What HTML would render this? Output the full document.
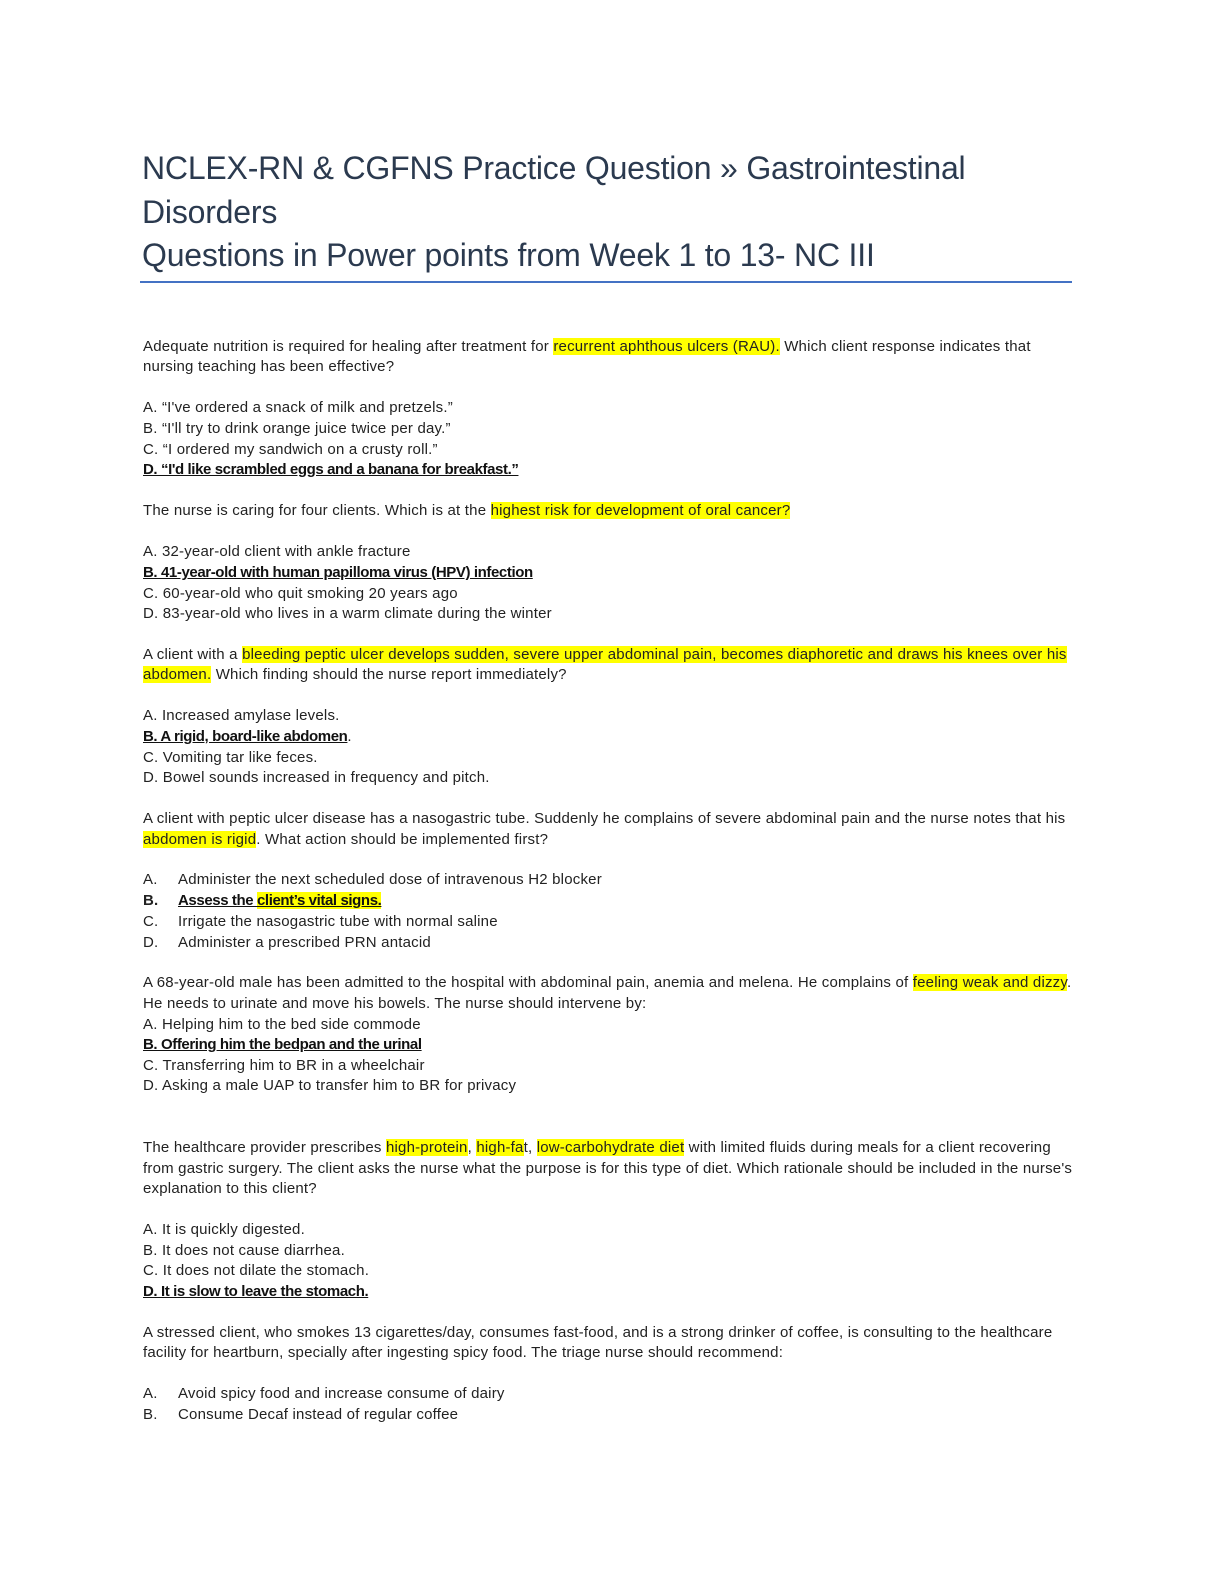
<!DOCTYPE html>
<html><head><meta charset="utf-8">
<style>
html,body{margin:0;padding:0;background:#fff;}
body{width:1224px;height:1584px;position:relative;overflow:hidden;font-family:"Liberation Sans",sans-serif;}
.t{position:absolute;left:142px;font-size:32px;color:#2b3a4f;white-space:nowrap;line-height:40px;letter-spacing:-0.2px}
.l{position:absolute;left:143px;font-size:15px;line-height:20px;height:20px;color:#222;white-space:nowrap;letter-spacing:0.2px}
.h{background:#ffff00}
.a{font-weight:bold;text-decoration:underline;letter-spacing:-0.4px;color:#111}
.n{display:inline-block;width:35px}
</style></head><body>
<div class="t" style="top:148px">NCLEX-RN &amp; CGFNS Practice Question » Gastrointestinal</div>
<div class="t" style="top:192px">Disorders</div>
<div class="t" style="top:235px">Questions in Power points from Week 1 to 13- NC III</div>
<div style="position:absolute;left:140px;top:281px;width:932px;height:2px;background:#4472c4"></div>

<div class="l" style="top:337px">Adequate nutrition is required for healing after treatment for <span class="h">recurrent aphthous ulcers (RAU).</span> Which client response indicates that</div>
<div class="l" style="top:357px">nursing teaching has been effective?</div>
<div class="l" style="top:398px">A. “I've ordered a snack of milk and pretzels.”</div>
<div class="l" style="top:419px">B. “I'll try to drink orange juice twice per day.”</div>
<div class="l" style="top:440px">C. “I ordered my sandwich on a crusty roll.”</div>
<div class="l a" style="top:460px">D. “I'd like scrambled eggs and a banana for breakfast.”</div>

<div class="l" style="top:501px">The nurse is caring for four clients. Which is at the <span class="h">highest risk for development of oral cancer?</span></div>
<div class="l" style="top:542px">A. 32-year-old client with ankle fracture</div>
<div class="l a" style="top:563px">B. 41-year-old with human papilloma virus (HPV) infection</div>
<div class="l" style="top:584px">C. 60-year-old who quit smoking 20 years ago</div>
<div class="l" style="top:604px">D. 83-year-old who lives in a warm climate during the winter</div>

<div class="l" style="top:645px">A client with a <span class="h">bleeding peptic ulcer develops sudden, severe upper abdominal pain, becomes diaphoretic and draws his knees over his</span></div>
<div class="l" style="top:665px"><span class="h">abdomen.</span> Which finding should the nurse report immediately?</div>
<div class="l" style="top:706px">A. Increased amylase levels.</div>
<div class="l" style="top:727px"><span class="a">B. A rigid, board-like abdomen</span>.</div>
<div class="l" style="top:748px">C. Vomiting tar like feces.</div>
<div class="l" style="top:768px">D. Bowel sounds increased in frequency and pitch.</div>

<div class="l" style="top:809px">A client with peptic ulcer disease has a nasogastric tube. Suddenly he complains of severe abdominal pain and the nurse notes that his</div>
<div class="l" style="top:830px"><span class="h">abdomen is rigid</span>. What action should be implemented first?</div>
<div class="l" style="top:870px"><span class="n">A.</span>Administer the next scheduled dose of intravenous H2 blocker</div>
<div class="l" style="top:891px"><span class="n" style="font-weight:bold">B.</span><span class="a">Assess the <span class="h">client’s vital signs.</span></span></div>
<div class="l" style="top:912px"><span class="n">C.</span>Irrigate the nasogastric tube with normal saline</div>
<div class="l" style="top:933px"><span class="n">D.</span>Administer a prescribed PRN antacid</div>

<div class="l" style="top:973px">A 68-year-old male has been admitted to the hospital with abdominal pain, anemia and melena. He complains of <span class="h">feeling weak and dizzy</span>.</div>
<div class="l" style="top:994px">He needs to urinate and move his bowels. The nurse should intervene by:</div>
<div class="l" style="top:1015px">A. Helping him to the bed side commode</div>
<div class="l a" style="top:1035px">B. Offering him the bedpan and the urinal</div>
<div class="l" style="top:1056px">C. Transferring him to BR in a wheelchair</div>
<div class="l" style="top:1076px">D. Asking a male UAP to transfer him to BR for privacy</div>

<div class="l" style="top:1138px">The healthcare provider prescribes <span class="h">high-protein</span>, <span class="h">high-fa</span>t, <span class="h">low-carbohydrate diet</span> with limited fluids during meals for a client recovering</div>
<div class="l" style="top:1159px">from gastric surgery. The client asks the nurse what the purpose is for this type of diet. Which rationale should be included in the nurse's</div>
<div class="l" style="top:1179px">explanation to this client?</div>
<div class="l" style="top:1220px">A. It is quickly digested.</div>
<div class="l" style="top:1241px">B. It does not cause diarrhea.</div>
<div class="l" style="top:1261px">C. It does not dilate the stomach.</div>
<div class="l a" style="top:1282px">D. It is slow to leave the stomach.</div>

<div class="l" style="top:1323px">A stressed client, who smokes 13 cigarettes/day, consumes fast-food, and is a strong drinker of coffee, is consulting to the healthcare</div>
<div class="l" style="top:1343px">facility for heartburn, specially after ingesting spicy food. The triage nurse should recommend:</div>
<div class="l" style="top:1384px"><span class="n">A.</span>Avoid spicy food and increase consume of dairy</div>
<div class="l" style="top:1405px"><span class="n">B.</span>Consume Decaf instead of regular coffee</div>
</body></html>
